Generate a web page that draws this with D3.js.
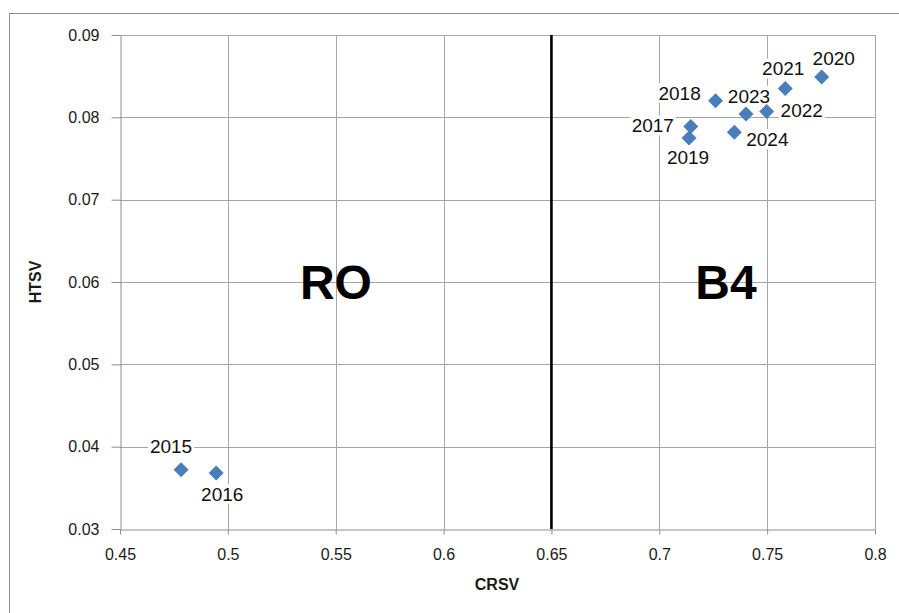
<!DOCTYPE html>
<html>
<head>
<meta charset="utf-8">
<script src="https://cdn.jsdelivr.net/npm/d3@7"></script>
<style>
  html, body { margin: 0; padding: 0; background: #fff; }
  svg { display: block; }
  text { font-family: "Liberation Sans", Arial, sans-serif; }
</style>
</head>
<body>
<svg id="chart" width="899" height="613"></svg>
<script>
// ---- data ----
const years = ["2015","2016","2017","2018","2019","2020","2021","2022","2023","2024"];
const crsv  = [0.4783, 0.4946, 0.7146, 0.7261, 0.7138, 0.7753, 0.7584, 0.7498, 0.7402, 0.7348];
const htsv  = [0.0372, 0.0368, 0.0789, 0.0820, 0.0775, 0.0849, 0.0835, 0.0807, 0.0804, 0.0782];
// label placement relative to each point (px)
const labelDx = [-10,  6, -38, -36, -1, 12, -2, 35,   3, 33];
const labelDy = [-24, 21,  -1,  -8, 19, -19, -20, -1, -18,  7];

const xTicks = [0.45, 0.5, 0.55, 0.6, 0.65, 0.7, 0.75, 0.8];
const xTickLabels = ["0.45","0.5","0.55","0.6","0.65","0.7","0.75","0.8"];
const yTicks = [0.03, 0.04, 0.05, 0.06, 0.07, 0.08, 0.09];
const yTickLabels = ["0.03","0.04","0.05","0.06","0.07","0.08","0.09"];
const divider = 0.65;
const regions = [{name: "RO", x: 0.5501}, {name: "B4", x: 0.7309}];

// ---- layout ----
const svg = d3.select("#chart");
const L = 120, R = 875, T = 35, B = 529;
const x = d3.scaleLinear().domain([0.45, 0.8]).range([L, R]);
const y = d3.scaleLinear().domain([0.03, 0.09]).range([B, T]);

// outer frame
svg.append("rect").attr("x", 9.5).attr("y", 13.5).attr("width", 1000).attr("height", 1000)
  .attr("fill", "none").attr("stroke", "#8c8c8c").attr("stroke-width", 1);

// gridlines
const grid = svg.append("g").attr("stroke", "#a6a6a6").attr("stroke-width", 1);
grid.selectAll("line.h").data(yTicks.slice(1)).join("line")
  .attr("x1", L).attr("x2", R)
  .attr("y1", d => Math.round(y(d)) + 0.5).attr("y2", d => Math.round(y(d)) + 0.5);
grid.selectAll("line.v").data(xTicks.slice(1)).join("line")
  .attr("y1", T).attr("y2", B)
  .attr("x1", d => Math.round(x(d)) + 0.5).attr("x2", d => Math.round(x(d)) + 0.5);

// axes
const yAxis = d3.axisLeft(y).tickValues(yTicks)
  .tickFormat((d, i) => yTickLabels[i]).tickSize(9).tickPadding(12).tickSizeOuter(0);
const xAxis = d3.axisBottom(x).tickValues(xTicks)
  .tickFormat((d, i) => xTickLabels[i]).tickSize(5).tickPadding(14).tickSizeOuter(0);

const gy = svg.append("g").attr("transform", `translate(${L + 0.5},0)`).call(yAxis);
const gx = svg.append("g").attr("transform", `translate(0,${B + 0.5})`).call(xAxis);
[gx, gy].forEach(g => {
  g.select(".domain").attr("stroke", "#8c8c8c");
  g.selectAll(".tick line").attr("stroke", "#8c8c8c");
  g.selectAll(".tick text").attr("fill", "#1a1a1a")
    .style("font-size", "16px").style("font-family", "'Liberation Sans', Arial, sans-serif");
});

// divider line
svg.append("line")
  .attr("x1", x(divider)).attr("x2", x(divider))
  .attr("y1", T).attr("y2", B)
  .attr("stroke", "#000").attr("stroke-width", 2.6);

// region labels
svg.selectAll("text.region").data(regions).join("text")
  .attr("class", "region")
  .attr("x", d => x(d.x)).attr("y", 299)
  .attr("text-anchor", "middle")
  .style("font-size", "48px").style("font-weight", "bold").attr("fill", "#000")
  .text(d => d.name);

// axis titles
svg.append("text").attr("x", 497).attr("y", 590).attr("text-anchor", "middle")
  .style("font-size", "16px").style("font-weight", "bold").attr("fill", "#1a1a1a")
  .text("CRSV");
svg.append("text").attr("transform", "translate(41,282) rotate(-90)")
  .attr("text-anchor", "middle")
  .style("font-size", "16px").style("font-weight", "bold").attr("fill", "#1a1a1a")
  .text("HTSV");

// data
const pts = years.map((yr, i) => ({yr, cx: crsv[i], hy: htsv[i], dx: labelDx[i], dy: labelDy[i]}));

// labels with white backgrounds
const lab = svg.append("g").selectAll("g").data(pts).join("g")
  .attr("transform", d => `translate(${x(d.cx) + d.dx},${y(d.hy) + d.dy})`);
lab.append("rect").attr("x", -23).attr("y", -10).attr("width", 46).attr("height", 20).attr("fill", "#fff");
lab.append("text").attr("text-anchor", "middle").attr("dy", "0.36em")
  .style("font-size", "19px").attr("fill", "#111").text(d => d.yr);

// markers
svg.append("g").selectAll("path").data(pts).join("path")
  .attr("transform", d => `translate(${x(d.cx)},${y(d.hy)})`)
  .attr("d", "M0,-7.5L7.5,0L0,7.5L-7.5,0Z")
  .attr("fill", "#4a7ebb");
</script>
</body>
</html>
